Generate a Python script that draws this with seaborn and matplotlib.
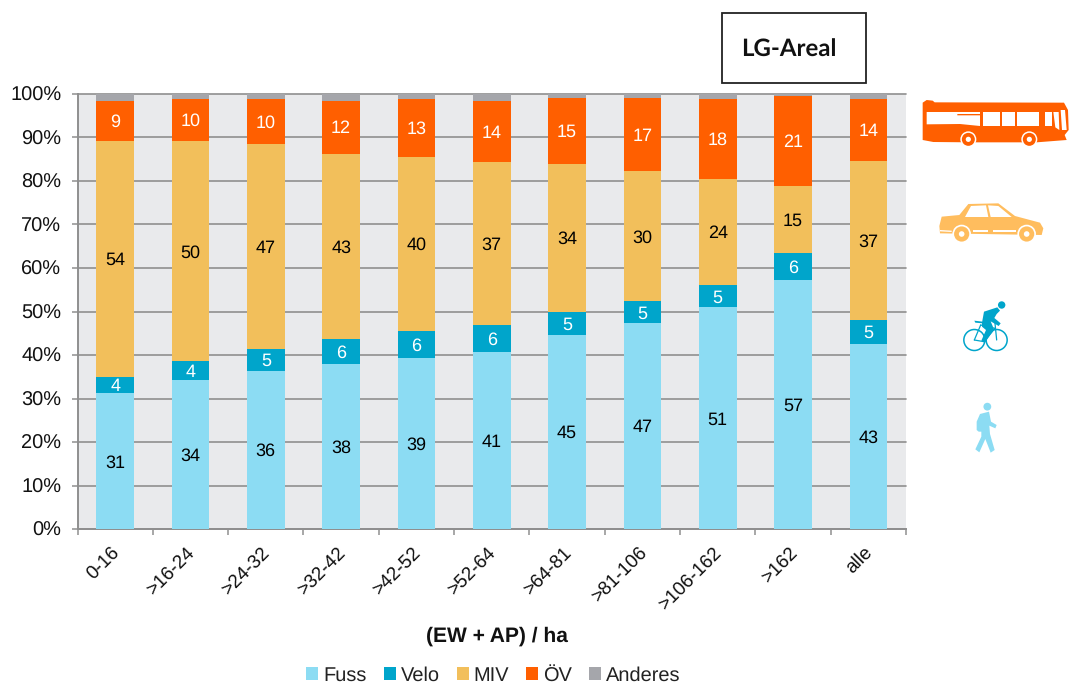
import numpy as np
import matplotlib
matplotlib.use("Agg")
import matplotlib.pyplot as plt
from matplotlib.patches import Circle, Polygon, Rectangle
from matplotlib.transforms import ScaledTranslation
import seaborn as sns

categories = ["0-16", ">16-24", ">24-32", ">32-42", ">42-52", ">52-64",
              ">64-81", ">81-106", ">106-162", ">162", "alle"]

fuss = [31.2, 34.3, 36.4, 37.9, 39.4, 40.8, 44.7, 47.3, 51.0, 57.3, 42.6]
velo = [3.8, 4.3, 4.9, 5.7, 6.2, 6.0, 5.2, 5.1, 5.0, 6.2, 5.4]
miv = [54.2, 50.6, 47.2, 42.7, 39.9, 37.6, 34.1, 29.8, 24.5, 15.4, 36.6]
oev = [9.3, 9.7, 10.4, 12.2, 13.4, 14.1, 15.1, 16.9, 18.4, 20.6, 14.3]
anderes = [1.5, 1.1, 1.1, 1.5, 1.1, 1.5, 0.9, 0.9, 1.1, 0.5, 1.1]

# labels printed on the bars (rounded in the original)
fuss_labels = [31, 34, 36, 38, 39, 41, 45, 47, 51, 57, 43]
velo_labels = [4, 4, 5, 6, 6, 6, 5, 5, 5, 6, 5]
miv_labels = [54, 50, 47, 43, 40, 37, 34, 30, 24, 15, 37]
oev_labels = [9, 10, 10, 12, 13, 14, 15, 17, 18, 21, 14]

C_FUSS = "#8cdcf3"
C_VELO = "#00a5cb"
C_MIV = "#f2bf5b"
C_OEV = "#ff5f00"
C_AND = "#a5a6ab"
C_ICON_CAR = "#ffbd5e"
C_GRID = "#8f8f8f"

sns.set_theme(style="white")
plt.rcParams["font.family"] = ["Liberation Sans", "DejaVu Sans"]
plt.rcParams["text.hinting"] = "no_hinting"
plt.rcParams["text.hinting_factor"] = 1

fig = plt.figure(figsize=(10.7, 6.85), dpi=100)
ax = fig.add_axes([77.5 / 1070, 1 - 529 / 685, (906 - 77.5) / 1070, 435 / 685])
ax.set_facecolor("#e9eaec")

series = [("Fuss", fuss, C_FUSS, fuss_labels, "black"),
          ("Velo", velo, C_VELO, velo_labels, "white"),
          ("MIV", miv, C_MIV, miv_labels, "black"),
          ("ÖV", oev, C_OEV, oev_labels, "white"),
          ("Anderes", anderes, C_AND, None, None)]

bottom = np.zeros(len(categories))
for name, vals, col, labels, txt_col in series:
    sns.barplot(x=categories, y=vals, bottom=bottom, color=col, saturation=1,
                width=0.5, label=name, ax=ax, zorder=3, linewidth=0)
    if labels is not None:
        for i, lab in enumerate(labels):
            ax.annotate(str(lab), (i, bottom[i] + vals[i] / 2), xytext=(0, -1.2),
                        textcoords="offset points", ha="center", va="center",
                        color=txt_col, fontsize=12.8, zorder=4)
    bottom = bottom + np.array(vals)

ax.set_xlim(-0.5, 10.5)
ax.set_ylim(0, 100)
ax.set_yticks(np.arange(0, 101, 10))
ax.set_yticklabels([f"{v}%" for v in range(0, 101, 10)], fontsize=14.5, color="#111111")
ax.yaxis.grid(True, color=C_GRID, linewidth=1.2, zorder=1)
ax.xaxis.grid(False)
ax.set_axisbelow(True)
for gl in ax.get_ygridlines():
    gl.set_clip_on(False)

for s in ["top", "right"]:
    ax.spines[s].set_visible(False)
for s in ["left", "bottom"]:
    ax.spines[s].set_color(C_GRID)
    ax.spines[s].set_linewidth(1.4)

ax.tick_params(axis="y", left=True, length=4.2, width=1.1, color=C_GRID, pad=7.5)
ax.set_xticks(np.arange(-0.5, 10.6, 1), minor=True)
ax.tick_params(axis="x", which="minor", bottom=True, length=4.2, width=1.1, color=C_GRID)
ax.tick_params(axis="x", which="major", bottom=False, pad=4.5)
ax.set_xticks(range(len(categories)))
ax.set_xticklabels(categories, rotation=45, ha="right", rotation_mode="anchor",
                   fontsize=14, color="#111111")
shift = ScaledTranslation(-5 / 100, 0, fig.dpi_scale_trans)
for lab in ax.get_xticklabels():
    lab.set_transform(lab.get_transform() + shift)

ax.legend(loc="center", bbox_to_anchor=(416 / 828.5, -146.5 / 435), ncol=5, frameon=False,
          fontsize=14.4, handlelength=0.6, handleheight=0.6, handletextpad=0.25,
          columnspacing=0.85, borderpad=0, labelcolor="#222222")

fig.text(496.5 / 1070, 1 - 636 / 685, "(EW + AP) / ha", ha="center", va="center",
         fontsize=14.8, fontweight="bold", color="#111111")

# overlay in pixel coordinates for the box and the icons
ov = fig.add_axes([0, 0, 1, 1], zorder=5)
ov.set_xlim(0, 1070)
ov.set_ylim(685, 0)
ov.axis("off")
ov.patch.set_alpha(0)

ov.add_patch(Rectangle((722, 13), 144, 70, fc="white", ec="#222222", lw=1.3))
ov.text(788.5, 50, "LG-Areal", ha="center", va="center", fontsize=17,
        fontweight="bold", family="Lato", color="#111111")


def zpts(pts, x0, y0):
    return [(x0 + x / 3, y0 + y / 3) for x, y in pts]


def poly(pts, x0, y0, col, lw=0):
    ov.add_patch(Polygon(zpts(pts, x0, y0), closed=True, fc=col, ec=col, lw=lw))


def wheel(x, y, x0, y0, col, r_out, r_in, r_ring):
    cx, cy = x0 + x / 3, y0 + y / 3
    ov.add_patch(Circle((cx, cy), r_ring, fc="white", lw=0))
    ov.add_patch(Circle((cx, cy), r_out, fc=col, lw=0))
    ov.add_patch(Circle((cx, cy), r_in, fc="white", lw=0))


# bus
X0, Y0 = 900, 80
poly([(68, 68), (80, 60), (98, 62), (104, 67), (492, 68), (504, 90), (506, 150), (494, 165),
      (500, 180), (410, 187), (210, 187), (100, 186), (68, 180)], X0, Y0, C_OEV)
poly([(80, 96), (172, 96), (172, 106), (240, 106), (240, 138), (180, 132), (80, 133)], X0, Y0, "white")
poly([(172, 96), (240, 96), (240, 101), (172, 101)], X0, Y0, "white")
poly([(248, 96), (300, 96), (300, 139), (248, 139)], X0, Y0, "white")
poly([(307, 96), (346, 96), (346, 139), (307, 139)], X0, Y0, "white")
poly([(352, 96), (416, 96), (416, 139), (352, 139)], X0, Y0, "white")
poly([(434, 96), (456, 96), (456, 139), (434, 139)], X0, Y0, "white")
poly([(460, 96), (476, 96), (478, 150), (466, 142)], X0, Y0, "white")
poly([(482, 90), (495, 90), (500, 150), (486, 150)], X0, Y0, "white")
wheel(205, 178, X0, Y0, C_OEV, 6.5, 2.6, 8)
wheel(388, 178, X0, Y0, C_OEV, 6.5, 2.6, 8)

# car
poly([(178, 405), (205, 372), (295, 370), (345, 408), (420, 428), (430, 445), (425, 465), (120, 460),
      (118, 438), (125, 410)], X0, Y0, C_ICON_CAR)
poly([(195, 411), (213, 378), (258, 376), (265, 411)], X0, Y0, "white")
poly([(272, 411), (264, 376), (295, 378), (335, 411)], X0, Y0, "white")
poly([(120, 450), (155, 452), (155, 456), (120, 454)], X0, Y0, "white")
poly([(218, 451), (265, 451), (265, 456), (218, 456)], X0, Y0, "white")
poly([(280, 451), (348, 451), (348, 456), (280, 456)], X0, Y0, "white")
wheel(185, 462, X0, Y0, C_ICON_CAR, 7.6, 2.8, 9.3)
wheel(380, 462, X0, Y0, C_ICON_CAR, 7.6, 2.8, 9.3)

# cyclist
X1, Y1 = 940, 290
for wx in (103, 170):
    ov.add_patch(Circle((X1 + wx / 3, Y1 + 150 / 3), 10.5, fc="none", ec=C_VELO, lw=1.1))
ov.add_patch(Circle((X1 + 185 / 3, Y1 + 45 / 3), 3.7, fc=C_VELO, lw=0))
poly([(126, 98), (132, 65), (172, 52), (180, 62), (170, 72), (163, 84), (182, 100), (176, 108), (152, 94),
      (162, 118), (135, 158), (124, 152), (138, 120), (126, 110)], X1, Y1, C_VELO)
poly([(103, 92), (128, 95), (128, 100), (106, 98)], X1, Y1, C_VELO)
for a, b in [((103, 150), (122, 105)), ((103, 150), (132, 155)), ((132, 155), (165, 115)),
             ((122, 105), (165, 115)), ((165, 100), (170, 150))]:
    ov.plot([X1 + a[0] / 3, X1 + b[0] / 3], [Y1 + a[1] / 3, Y1 + b[1] / 3], color=C_VELO, lw=0.9)

# pedestrian
ov.add_patch(Circle((X1 + 142 / 3, Y1 + 350 / 3), 3.9, fc=C_FUSS, lw=0))
poly([(120, 372), (147, 365), (153, 395), (170, 405), (166, 415), (148, 407), (150, 432), (164, 480),
      (152, 488), (136, 447), (118, 487), (106, 478), (124, 440), (124, 425), (116, 425), (110, 420), (110, 395)],
     X1, Y1, C_FUSS)

fig.savefig("out.png", dpi=100, facecolor="white")
